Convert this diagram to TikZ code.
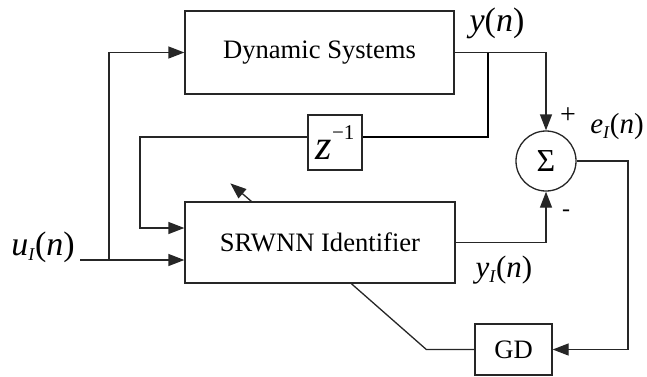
\documentclass[tikz,border=0pt]{standalone}
\usepackage{fontspec}
\setmainfont{Liberation Serif}
\usepackage{tikz}
\usetikzlibrary{arrows.meta, positioning, calc}

\newcommand{\subI}{\raisebox{-0.35ex}{\fontsize{9}{9}\selectfont\textit{I}}}
\newcommand{\sig}[2]{\textit{#1}#2(\textit{n})}

\begin{document}
\begin{tikzpicture}[
    x=0.5pt, y=-0.5pt,
    line width=0.65pt,
    block/.style={
        rectangle,
        draw=black!85,
        align=center,
        font=\fontsize{13.3}{15}\selectfont
    },
    lbl/.style={
        inner sep=0pt,
        font=\fontsize{17}{19}\selectfont
    },
    arrow/.style={
        -{Triangle[length=8pt, width=6pt]},
        draw=black!85
    }
]
\useasboundingbox (0,0) rectangle (647,376);

% Blocks
\node[block, minimum width=134.5pt, minimum height=41.5pt] (ds) at (319.5,52.5) {Dynamic Systems};
\node[block, minimum width=135pt, minimum height=40.5pt] (srwnn) at (320,242.5) {SRWNN Identifier};
\node[block, minimum width=27pt, minimum height=27.5pt, inner sep=0pt] (delay) at (335,142.5)
    {\fontsize{21}{21}\selectfont\textit{z}\raisebox{1.0ex}{\fontsize{10.5}{10.5}\selectfont −1}};
\node[circle, draw=black!85, minimum size=30pt, inner sep=0pt,
      font=\fontsize{16}{18}\selectfont] (sum) at (546,161) {Σ};
\node[block, minimum width=38.5pt, minimum height=25.5pt] (gd) at (513.5,349.5) {GD};

% Helper points
\coordinate (in) at (80,260);
\coordinate (ux) at (109,0);
\coordinate (fbx) at (140,0);
\coordinate (br) at (488,137);
\coordinate (rx) at (628,0);

% Connectors
\draw[arrow] (in) -- ([yshift=-8.75pt]srwnn.west);
\draw[arrow] (in -| ux) |- (ds.west);
\draw[arrow] (ds.east) -| (sum.north);
\draw (br |- ds.east) -- (br) -- (br -| delay.east);
\draw[arrow] (br -| delay.west) -| ([yshift=7.25pt]srwnn.west -| fbx) -- ([yshift=7.25pt]srwnn.west);
\draw[arrow] (srwnn.east) -| (sum.south);
\draw[arrow] (sum.east) -| (rx |- gd.east) -- (gd.east);
\draw[draw=black!85] (gd.west) -- ++(-48,0) -- ($(srwnn.south west)+(167,0)$);
\draw[arrow] ($(srwnn.north west)+(67,0)$) -- ++(-21,-18);

% Labels
\node[lbl] (yout) at (497,23) {\sig{y}{}};
\node[lbl] (uin) at (43,247) {\sig{u}{\subI}};
\node[lbl, font=\fontsize{15.5}{17}\selectfont] (yid) at (504,270) {\sig{y}{\subI}};
\node[lbl, font=\fontsize{14.5}{16}\selectfont] (err) at (617,127) {\sig{e}{\subI}};
\node[lbl, font=\fontsize{14}{16}\selectfont] (plus) at (568,116) {+};
\node[lbl, font=\fontsize{12}{14}\selectfont] (minus) at (566,213) {-};
\end{tikzpicture}
\end{document}
